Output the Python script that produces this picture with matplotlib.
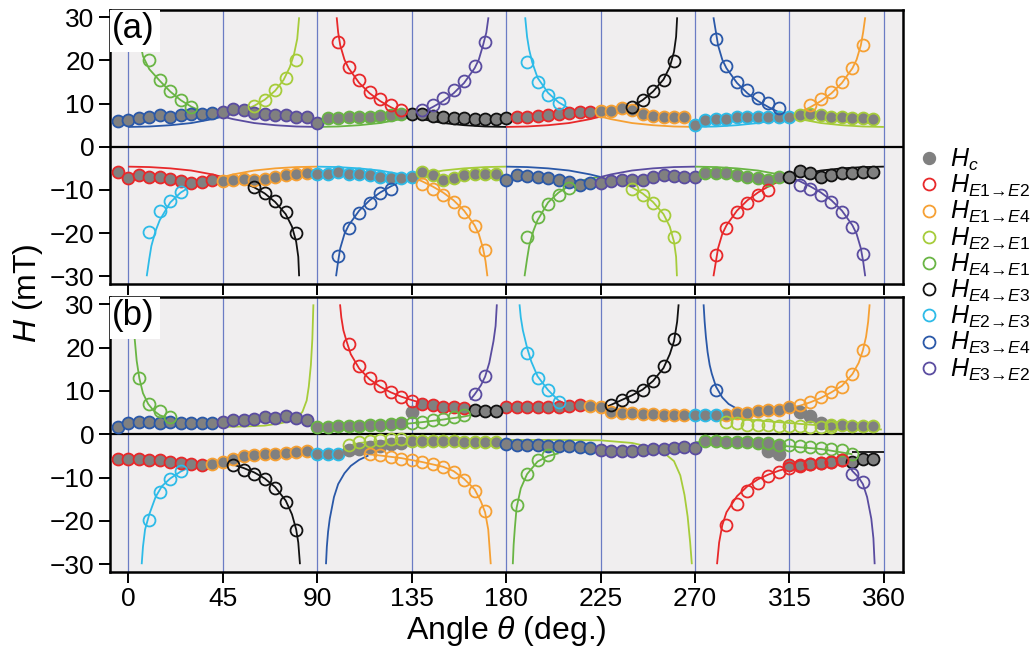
import matplotlib
matplotlib.use("Agg")
import matplotlib.pyplot as plt
from matplotlib.lines import Line2D
from matplotlib.patches import Rectangle

plt.rcParams['font.family'] = ['Liberation Sans', 'DejaVu Sans']
plt.rcParams['mathtext.fontset'] = 'custom'
plt.rcParams['mathtext.it'] = 'Liberation Sans:italic'
plt.rcParams['mathtext.rm'] = 'Liberation Sans'
plt.rcParams['mathtext.fallback'] = 'stix'

C = {'hc': '#808080', 'r': '#e8282a', 'o': '#f6a033', 'lg': '#a6cc3a', 'g': '#69b544',
     'k': '#111111', 'c': '#2dbbe8', 'b': '#2a58a8', 'p': '#5a4ca0'}

# ---------------- panel (a) : Hc (filled) ----------------
a_hc_pos_b_x = [-5, 0, 5, 10, 15, 20, 25, 30, 35, 40]
a_hc_pos_b_y = [6.0, 6.2, 6.7, 6.9, 7.3, 6.9, 7.3, 7.6, 7.6, 7.8]
a_hc_pos_p_x = [45, 50, 55, 60, 65, 70, 75, 80, 85, 90]
a_hc_pos_p_y = [8.1, 8.7, 8.5, 7.9, 7.7, 7.4, 7.3, 7.0, 6.8, 5.6]
a_hc_pos_g_x = [95, 100, 105, 110, 115, 120, 125, 130]
a_hc_pos_g_y = [6.6, 6.6, 6.8, 6.9, 7.0, 7.2, 7.4, 7.7]
a_hc_pos_k_x = [135, 140, 145, 150, 155, 160, 165, 170, 175, 180]
a_hc_pos_k_y = [7.5, 7.6, 7.2, 6.8, 6.6, 6.7, 6.35, 6.35, 6.4, 6.6]
a_hc_pos_r_x = [185, 190, 195, 200, 205, 210, 215, 220]
a_hc_pos_r_y = [7.0, 7.0, 7.1, 7.3, 7.7, 7.9, 8.1, 8.1]
a_hc_pos_o_x = [225, 230, 235, 240, 245, 250, 255, 260, 265]
a_hc_pos_o_y = [8.3, 8.3, 8.9, 8.5, 7.7, 7.1, 7.0, 7.0, 7.0]
a_hc_pos_c_x = [270, 275, 280, 285, 290, 295, 300, 305, 310, 315]
a_hc_pos_c_y = [5.0, 6.2, 6.4, 6.4, 6.8, 6.8, 7.0, 7.0, 7.0, 7.0]
a_hc_pos_lg_x = [320, 325, 330, 335, 340, 345, 350, 355]
a_hc_pos_lg_y = [7.3, 7.7, 7.3, 7.0, 6.8, 6.6, 6.6, 6.4]

a_hc_neg_r_x = [-5, 0, 5, 10, 15, 20, 25, 30, 35, 40]
a_hc_neg_r_y = [-5.9, -7.3, -6.6, -7.0, -7.1, -7.5, -8.0, -8.3, -8.1, -7.7]
a_hc_neg_o_x = [45, 50, 55, 60, 65, 70, 75, 80, 85]
a_hc_neg_o_y = [-8.0, -7.7, -7.5, -7.6, -7.5, -7.0, -6.6, -6.4, -6.1]
a_hc_neg_c_x = [90, 95, 100, 105, 110, 115, 120, 125, 130, 135]
a_hc_neg_c_y = [-6.4, -6.2, -5.8, -6.2, -6.2, -6.6, -7.0, -7.2, -7.3, -6.9]
a_hc_neg_lg_x = [140, 145, 150, 155, 160, 165, 170, 175]
a_hc_neg_lg_y = [-5.9, -6.6, -7.7, -7.3, -6.6, -6.2, -6.2, -6.2]
a_hc_neg_b_x = [180, 185, 190, 195, 200, 205, 210, 215, 220]
a_hc_neg_b_y = [-7.7, -6.6, -6.8, -6.9, -7.3, -7.7, -8.2, -8.8, -8.3]
a_hc_neg_p_x = [225, 230, 235, 240, 245, 250, 255, 260, 265, 270]
a_hc_neg_p_y = [-8.5, -8.0, -7.6, -7.7, -7.6, -7.0, -6.6, -6.8, -7.0, -7.0]
a_hc_neg_g_x = [275, 280, 285, 290, 295, 300, 305, 310]
a_hc_neg_g_y = [-6.1, -6.1, -6.1, -6.6, -6.95, -7.3, -7.6, -6.95]
a_hc_neg_k_x = [315, 320, 325, 330, 335, 340, 345, 350, 355]
a_hc_neg_k_y = [-6.95, -5.5, -6.0, -7.0, -6.55, -6.1, -6.0, -5.8, -5.9]

# ---------------- panel (a) : transition fields (open) ----------------
a_op_g_x = [10, 15, 20, 25, 30];                 a_op_g_y = [20.1, 15.5, 13.0, 10.8, 9.3]
a_op_lg_x = [60, 65, 70, 75, 80];                a_op_lg_y = [9.4, 10.8, 13.1, 15.9, 20.1]
a_op_r_x = [100, 105, 110, 115, 120, 125, 130];  a_op_r_y = [24.3, 18.5, 15.5, 12.8, 11.0, 9.6, 8.6]
a_op_p_x = [140, 145, 150, 155, 160, 165, 170];  a_op_p_y = [8.6, 9.6, 11.2, 13.1, 15.2, 18.7, 24.3]
a_op_c_x = [190, 195, 200, 205];                 a_op_c_y = [19.7, 15.1, 12.1, 10.2]
a_op_k_x = [240, 245, 250, 255, 260];            a_op_k_y = [9.3, 10.8, 13.0, 15.5, 19.9]
a_op_b_x = [280, 285, 290, 295, 300, 305, 310];  a_op_b_y = [24.9, 18.7, 15.1, 13.1, 11.2, 10.1, 8.9]
a_op_o_x = [325, 330, 335, 340, 345, 350];       a_op_o_y = [9.7, 11.0, 12.8, 15.1, 18.2, 23.7]
a_on_c_x = [10, 15, 20, 25];                     a_on_c_y = [-19.7, -14.9, -12.5, -10.4]
a_on_k_x = [60, 65, 70, 75, 80];                 a_on_k_y = [-9.3, -10.8, -12.5, -15.1, -19.9]
a_on_b_x = [100, 105, 110, 115, 120, 125];       a_on_b_y = [-25.3, -18.9, -15.4, -13.0, -10.8, -9.7]
a_on_o_x = [140, 145, 150, 155, 160, 165, 170];  a_on_o_y = [-8.6, -9.7, -11.2, -12.9, -15.1, -18.4, -24.0]
a_on_g_x = [190, 195, 200, 205, 210];            a_on_g_y = [-21.0, -16.2, -13.2, -11.2, -9.6]
a_on_lg_x = [240, 245, 250, 255, 260];           a_on_lg_y = [-9.7, -11.2, -13.1, -15.8, -21.0]
a_on_r_x = [280, 285, 290, 295, 300, 305];       a_on_r_y = [-25.1, -18.9, -15.1, -13.0, -11.2, -9.9]
a_on_p_x = [320, 325, 330, 335, 340, 345, 350];  a_on_p_y = [-8.9, -9.7, -11.2, -12.9, -15.1, -18.7, -24.9]

# ---------------- panel (a) : fitted curves ----------------
a_fit_g_hi_x = [3.5, 5, 7, 10, 15, 20, 25, 30, 35, 40, 45]
a_fit_g_hi_y = [30, 26, 21, 18, 15.3, 12.8, 10.8, 9.3, 8.2, 7.5, 7.0]
a_fit_lg_hi_x = [45, 50, 55, 60, 65, 70, 74, 77, 79, 80.5, 81.4]
a_fit_lg_hi_y = [7.0, 7.6, 8.4, 9.5, 10.9, 13.0, 15.5, 18.5, 21.5, 25, 30]
a_fit_b_lo_x = [0, 10, 20, 30, 40, 45];          a_fit_b_lo_y = [4.6, 4.7, 5.0, 5.5, 6.4, 7.0]
a_fit_p_lo_x = [45, 50, 60, 70, 80, 90];         a_fit_p_lo_y = [7.0, 6.4, 5.5, 5.0, 4.7, 4.6]
a_fit_g_lo_x = [90, 100, 110, 120, 130, 135];    a_fit_g_lo_y = [4.6, 4.7, 5.0, 5.5, 6.4, 7.0]
a_fit_r_hi_x = [99.3, 100, 101, 103, 105, 110, 115, 120, 125, 130, 135]
a_fit_r_hi_y = [30, 26.5, 23.5, 20.2, 18.2, 14.8, 12.4, 10.6, 9.2, 8.0, 7.0]
a_fit_p_hi_x = [135, 140, 145, 150, 155, 160, 165, 167, 169, 170.6, 171.6]
a_fit_p_hi_y = [7.0, 8.0, 9.2, 10.6, 12.4, 14.8, 18.2, 20.2, 23.5, 26.5, 30]
a_fit_k_lo_x = [135, 140, 150, 160, 170, 180];   a_fit_k_lo_y = [7.0, 6.4, 5.5, 5.0, 4.7, 4.6]
a_fit_c_hi_x = [189.1, 190, 191, 192.5, 195, 200, 205, 210, 215, 220, 225]
a_fit_c_hi_y = [30, 25.5, 22.5, 19.5, 16.0, 12.5, 10.3, 8.9, 7.9, 7.3, 6.9]
a_fit_r_lo_x = [180, 190, 200, 210, 220, 225];   a_fit_r_lo_y = [4.6, 4.7, 5.0, 5.5, 6.4, 7.0]
a_fit_k_hi_x = [225, 230, 235, 240, 245, 250, 255, 258, 260, 261, 261.5]
a_fit_k_hi_y = [7.0, 7.7, 8.4, 9.4, 10.8, 12.8, 15.6, 18.5, 22, 25.5, 30]
a_fit_o_lo_x = [225, 230, 240, 250, 260, 270];   a_fit_o_lo_y = [7.0, 6.4, 5.5, 5.0, 4.7, 4.6]
a_fit_b_hi_x = [278.8, 280, 281, 283, 285, 290, 295, 300, 305, 310, 315]
a_fit_b_hi_y = [30, 26.5, 23.5, 20.2, 18.2, 14.8, 12.4, 10.6, 9.2, 8.0, 7.0]
a_fit_c_lo_x = [270, 280, 290, 300, 310, 315];   a_fit_c_lo_y = [4.6, 4.7, 5.0, 5.5, 6.4, 7.0]
a_fit_o_hi_x = [315, 320, 325, 330, 335, 340, 345, 347, 349, 350.1, 351.1]
a_fit_o_hi_y = [7.0, 8.0, 9.2, 10.6, 12.4, 14.8, 18.2, 20.2, 23.5, 26.5, 30]
a_fit_lg_lo_x = [315, 320, 330, 340, 350, 360];  a_fit_lg_lo_y = [7.0, 6.4, 5.5, 5.0, 4.7, 4.6]

a_fitn_r_lo_x = [0, 10, 20, 30, 40, 45];         a_fitn_r_lo_y = [-4.6, -4.7, -5.0, -5.5, -6.4, -7.0]
a_fitn_c_hi_x = [8.8, 10, 11, 13, 15, 20, 25, 30, 35, 40, 45]
a_fitn_c_hi_y = [-30, -26, -23, -19.5, -17, -12.9, -10.6, -9.1, -8.0, -7.3, -7.0]
a_fitn_o_lo_x = [45, 50, 60, 70, 80, 90];        a_fitn_o_lo_y = [-7.0, -6.4, -5.5, -5.0, -4.7, -4.6]
a_fitn_k_hi_x = [45, 50, 55, 60, 65, 70, 75, 78, 80, 81, 81.4]
a_fitn_k_hi_y = [-7.0, -7.7, -8.4, -9.4, -10.8, -12.8, -15.6, -18.5, -22, -25.5, -30]
a_fitn_c_lo_x = [90, 100, 110, 120, 130, 135];   a_fitn_c_lo_y = [-4.6, -4.7, -5.0, -5.5, -6.4, -7.0]
a_fitn_b_hi_x = [99, 100, 101, 103, 105, 110, 115, 120, 125, 130, 135]
a_fitn_b_hi_y = [-30, -26.5, -23.5, -20.2, -18.2, -14.8, -12.4, -10.6, -9.2, -8.0, -7.0]
a_fitn_o_hi_x = [135, 140, 145, 150, 155, 160, 165, 167, 169, 170.2, 171.1]
a_fitn_o_hi_y = [-7.0, -8.0, -9.2, -10.6, -12.4, -14.8, -18.2, -20.2, -23.5, -26.5, -30]
a_fitn_lg_lo_x = [135, 140, 150, 160, 170, 180]; a_fitn_lg_lo_y = [-7.0, -6.4, -5.5, -5.0, -4.7, -4.6]
a_fitn_g_hi_x = [188.8, 190, 191, 193, 195, 200, 205, 210, 215, 220, 225]
a_fitn_g_hi_y = [-30, -26, -23, -19.5, -17, -12.9, -10.6, -9.1, -8.0, -7.3, -7.0]
a_fitn_b_lo_x = [180, 190, 200, 210, 220, 225];  a_fitn_b_lo_y = [-4.6, -4.7, -5.0, -5.5, -6.4, -7.0]
a_fitn_lg_hi_x = [225, 230, 235, 240, 245, 250, 255, 258, 260, 261, 261.4]
a_fitn_lg_hi_y = [-7.0, -7.7, -8.4, -9.4, -10.8, -12.8, -15.6, -18.5, -22, -25.5, -30]
a_fitn_p_lo_x = [225, 230, 240, 250, 260, 270];  a_fitn_p_lo_y = [-7.0, -6.4, -5.5, -5.0, -4.7, -4.6]
a_fitn_r_hi_x = [278.8, 280, 281, 283, 285, 290, 295, 300, 305, 310, 315]
a_fitn_r_hi_y = [-30, -26.5, -23.5, -20.2, -18.2, -14.8, -12.4, -10.6, -9.2, -8.0, -7.0]
a_fitn_g_lo_x = [270, 280, 290, 300, 310, 315];  a_fitn_g_lo_y = [-4.6, -4.7, -5.0, -5.5, -6.4, -7.0]
a_fitn_p_hi_x = [315, 320, 325, 330, 335, 340, 345, 347, 349, 350.1, 351.1]
a_fitn_p_hi_y = [-7.0, -8.0, -9.2, -10.6, -12.4, -14.8, -18.2, -20.2, -23.5, -26.5, -30]
a_fitn_k_lo_x = [315, 320, 330, 340, 350, 360];  a_fitn_k_lo_y = [-7.0, -6.4, -5.5, -5.0, -4.7, -4.6]

# ---------------- panel (b) : Hc (filled) ----------------
b_hc_pos_b_x = [-5, 0, 5, 10, 15, 20, 25, 30, 35, 40]
b_hc_pos_b_y = [1.7, 2.5, 2.85, 2.85, 2.6, 2.85, 2.7, 2.7, 2.7, 2.7]
b_hc_pos_p_x = [45, 50, 55, 60, 65, 70, 75, 80, 85]
b_hc_pos_p_y = [2.85, 3.2, 3.4, 3.6, 4.0, 3.85, 4.15, 3.8, 3.4]
b_hc_pos_g_x = [90, 95, 100, 105, 110, 115, 120, 125, 130]
b_hc_pos_g_y = [1.7, 1.7, 1.85, 1.85, 1.85, 2.1, 2.1, 2.3, 2.5]
b_hc_pos_n_x = [135, 320, 325, 330]
b_hc_pos_n_y = [5.15, 5.1, 4.2, 2.7]
b_hc_pos_r_x = [140, 145, 150, 155, 160, 180, 185, 190, 195, 200, 205, 210, 215]
b_hc_pos_r_y = [7.1, 6.7, 6.3, 6.3, 6.1, 6.2, 6.3, 6.3, 6.3, 6.2, 6.3, 6.5, 6.7]
b_hc_pos_k_x = [165, 170, 175]
b_hc_pos_k_y = [5.5, 5.4, 5.4]
b_hc_pos_o_x = [220, 225, 230, 235, 240, 245, 250, 255, 260, 265, 285, 290, 295, 300, 305, 310, 315]
b_hc_pos_o_y = [6.5, 6.3, 5.2, 4.9, 4.8, 4.6, 4.6, 4.55, 4.55, 4.4, 4.4, 4.8, 5.0, 5.4, 5.6, 5.7, 6.2]
b_hc_pos_c_x = [270, 275, 280]
b_hc_pos_c_y = [4.5, 4.5, 4.5]
b_hc_pos_lg_x = [335, 340, 345, 350, 355]
b_hc_pos_lg_y = [2.1, 2.1, 1.85, 1.85, 1.85]

b_hc_neg_r_x = [-5, 0, 5, 10, 15, 20, 25, 30, 35, 315, 320, 325, 330, 335, 340]
b_hc_neg_r_y = [-5.8, -5.6, -5.8, -6.0, -6.0, -6.4, -6.6, -6.8, -7.2, -7.1, -7.0, -6.8, -6.7, -6.4, -6.0]
b_hc_neg_o_x = [40, 45, 50, 55, 60, 65, 70, 75, 80, 85]
b_hc_neg_o_y = [-6.8, -6.4, -5.6, -5.1, -4.85, -4.6, -4.5, -4.3, -4.1, -3.85]
b_hc_neg_c_x = [90, 95, 100]
b_hc_neg_c_y = [-4.5, -4.5, -4.5]
b_hc_neg_n_x = [105, 110, 115, 120, 125, 130, 305, 310]
b_hc_neg_n_y = [-3.6, -3.3, -3.0, -2.6, -2.2, -2.0, -3.8, -4.6]
b_hc_neg_lg_x = [135, 140, 145, 150, 155, 160, 165, 170, 175]
b_hc_neg_lg_y = [-1.6, -1.6, -1.6, -1.6, -1.6, -1.7, -1.7, -1.8, -1.8]
b_hc_neg_b_x = [180, 185, 190, 195, 200, 205, 210, 215, 220]
b_hc_neg_b_y = [-2.3, -2.4, -2.5, -2.5, -2.6, -2.7, -2.8, -3.0, -3.1]
b_hc_neg_p_x = [225, 230, 235, 240, 245, 250, 255, 260, 265, 270]
b_hc_neg_p_y = [-3.7, -3.8, -3.8, -3.8, -3.7, -3.5, -3.3, -3.1, -2.9, -3.1]
b_hc_neg_g_x = [275, 280, 285, 290, 295, 300, 305, 310]
b_hc_neg_g_y = [-1.6, -1.6, -1.8, -1.8, -1.8, -1.9, -2.1, -2.5]
b_hc_neg_k_x = [345, 350, 355]
b_hc_neg_k_y = [-6.4, -5.6, -5.6]

# ---------------- panel (b) : transition fields (open) ----------------
b_op_g_x = [5, 10, 15, 20, 135, 140, 145, 150, 155, 160]
b_op_g_y = [12.9, 6.9, 5.4, 4.0, 2.7, 2.9, 3.2, 3.6, 4.1, 4.4]
b_op_r_x = [105, 110, 115, 120, 125, 130, 135]; b_op_r_y = [20.8, 15.7, 13.1, 11.1, 9.8, 8.6, 7.7]
b_op_p_x = [165, 170];                          b_op_p_y = [9.4, 13.4]
b_op_c_x = [190, 195, 200, 205];                b_op_c_y = [18.8, 12.9, 10.2, 7.5]
b_op_k_x = [230, 235, 240, 245, 250, 255, 260]; b_op_k_y = [6.7, 7.85, 8.8, 10.2, 12.3, 15.7, 21.9]
b_op_b_x = [280];                               b_op_b_y = [10.3]
b_op_o_x = [320, 325, 330, 335, 340, 345, 350]; b_op_o_y = [6.7, 7.5, 8.6, 9.8, 10.9, 13.9, 19.4]
b_op_lg_x = [285, 290, 295, 300, 305, 310, 315, 320, 325, 330, 335]
b_op_lg_y = [2.85, 2.5, 2.1, 2.1, 2.1, 1.85, 1.9, 1.85, 1.7, 1.7, 1.6]
b_on_c_x = [10, 15, 20, 25];                    b_on_c_y = [-19.9, -13.3, -10.4, -8.5]
b_on_k_x = [50, 55, 60, 65, 70, 75, 80];        b_on_k_y = [-7.2, -8.2, -9.1, -10.4, -12.5, -15.6, -22.0]
b_on_lg_x = [105, 110, 115, 120, 125, 130];     b_on_lg_y = [-2.5, -1.8, -1.5, -1.3, -1.2, -1.1]
b_on_o_x = [115, 120, 125, 130, 135, 140, 145, 150, 155, 160, 165, 170]
b_on_o_y = [-4.6, -4.85, -5.2, -5.6, -6.0, -6.4, -6.9, -7.5, -8.7, -10.5, -13.0, -17.7]
b_on_g_x = [185, 190, 195, 200, 315, 320, 325, 330, 335, 340, 345]
b_on_g_y = [-16.4, -9.1, -6.0, -4.85, -2.5, -2.7, -2.9, -3.2, -3.4, -3.7, -4.5]
b_on_r_x = [285, 290, 295, 300, 305, 310, 315, 320, 325, 330, 335, 340]
b_on_r_y = [-21.0, -16.2, -13.1, -11.2, -9.7, -8.7, -7.9, -7.4, -6.9, -6.6, -6.4, -6.0]
b_on_p_x = [345, 350];                          b_on_p_y = [-9.1, -11.0]

# ---------------- panel (b) : fitted curves ----------------
b_fit_g_hi_x = [2.0, 2.5, 3.2, 4, 5.3, 7, 9.5, 12, 15, 20, 25]
b_fit_g_hi_y = [30, 25, 21.3, 17, 12.9, 9.5, 7.0, 5.5, 4.4, 3.6, 3.1]
b_fit_lg_hi_x = [45, 55, 65, 72, 77, 80, 83, 85, 86, 87, 87.7, 88.2]
b_fit_lg_hi_y = [1.7, 1.8, 2.0, 2.5, 3.0, 3.6, 5.2, 7.8, 11, 16, 22, 30]
b_fit_g_lo_x = [90, 110, 130, 140, 150, 160, 166]
b_fit_g_lo_y = [1.7, 1.9, 2.3, 2.8, 3.4, 4.1, 4.7]
b_fit_r_hi_x = [100.9, 101.5, 102.5, 104, 106, 110, 115, 120, 125, 130, 135, 140, 150, 160, 170,
                180, 190, 200, 210, 215]
b_fit_r_hi_y = [30, 27, 24, 21.5, 18.5, 15.2, 12.7, 11.0, 9.7, 8.7, 7.9, 7.2, 6.5, 6.1, 5.9,
                5.9, 6.0, 6.2, 6.4, 6.5]
b_fit_p_hi_x = [163, 165, 168, 170, 172, 174, 175, 175.6]
b_fit_p_hi_y = [8.0, 9.2, 11.3, 13.3, 16.5, 21.5, 25, 30]
b_fit_c_hi_x = [186.4, 187, 188, 190, 192, 195, 200, 205, 210]
b_fit_c_hi_y = [30, 27, 24, 20, 16.8, 13.4, 10.2, 7.8, 6.5]
b_fit_o_x = [215, 225, 240, 255, 270, 285, 300, 310, 315, 320, 325, 330, 335, 340, 345, 348,
             350, 351.5, 352.5, 353.2]
b_fit_o_y = [6.6, 5.6, 4.8, 4.5, 4.3, 4.4, 5.0, 5.6, 6.1, 6.6, 7.4, 8.4, 9.7, 11.2, 13.9, 16.5,
             19.4, 22.5, 26, 30]
b_fit_k_hi_x = [226, 230, 235, 240, 245, 250, 255, 258, 260, 261.5, 262.2]
b_fit_k_hi_y = [6.0, 6.8, 7.9, 9.0, 10.3, 12.3, 15.3, 18.5, 21.5, 26, 30]
b_fit_b_hi_x = [274.1, 274.6, 275.2, 276, 277, 278, 280, 283, 286, 290]
b_fit_b_hi_y = [30, 26, 22.5, 19, 16, 14, 11, 8.5, 7.0, 5.9]
b_fit_lg_lo_x = [282.8, 295, 307.4, 320, 331.2, 345, 359]
b_fit_lg_lo_y = [4.0, 3.4, 2.9, 2.4, 2.0, 1.5, 1.1]

b_fitn_c_x = [6.4, 7, 8, 10, 13, 16, 20, 25, 28]
b_fitn_c_y = [-30, -26, -22, -18.5, -14.5, -12, -10.2, -8.6, -7.9]
b_fitn_o_x = [40, 50, 60, 75, 90, 100, 110, 120, 130, 140, 150, 155, 160, 165, 168, 170, 171.5, 172.7]
b_fitn_o_y = [-6.9, -5.6, -4.9, -4.3, -4.1, -4.1, -4.4, -4.9, -5.5, -6.4, -7.5, -8.5, -10.3, -12.7,
              -15.5, -18, -22, -30]
b_fitn_k_x = [45, 50, 55, 60, 65, 70, 75, 78, 80, 81, 81.8]
b_fitn_k_y = [-6.4, -7.0, -7.8, -8.8, -10.2, -12.2, -15.3, -18.5, -22, -25, -30]
b_fitn_b_x = [94.2, 94.6, 95.2, 96, 97, 98, 100, 103, 106, 110, 114.4]
b_fitn_b_y = [-30, -26, -22.5, -19.5, -17, -14.5, -11.5, -9, -7.3, -5.9, -4.9]
b_fitn_lg_x = [104, 110, 120, 140, 160, 180, 200, 225, 240, 250, 255, 260, 263, 265, 266.5, 267.7, 268.5]
b_fitn_lg_y = [-2.9, -2.0, -1.6, -1.4, -1.3, -1.3, -1.3, -1.4, -2.0, -3.1, -4.2, -6.2, -9.5, -14,
               -19, -25, -30]
b_fitn_g_x = [183.2, 183.6, 184.2, 185, 187, 190, 195, 200, 205]
b_fitn_g_y = [-30, -25.5, -21.5, -17, -12.5, -9.2, -6.3, -5.0, -4.4]
b_fitn_g2_x = [270, 290, 310, 330, 345]
b_fitn_g2_y = [-1.8, -2.1, -2.6, -3.4, -4.6]
b_fitn_r_x = [280.5, 281.5, 283, 285, 290, 295, 300, 305, 310, 315, 320, 330, 340]
b_fitn_r_y = [-30, -25, -21, -18, -14.3, -12, -10.4, -9.3, -8.4, -7.7, -7.1, -6.3, -5.8]
b_fitn_k2_x = [345, 360]
b_fitn_k2_y = [-4.1, -4.1]
b_fitn_p_x = [343, 345, 348, 350, 352, 354, 355, 355.6]
b_fitn_p_y = [-7, -8.5, -10, -11.5, -14.5, -19.5, -24, -30]

xticks = [0, 45, 90, 135, 180, 225, 270, 315, 360]
yticks = [-30, -20, -10, 0, 10, 20, 30]

ARROW = r'\!\rightarrow\!'
legend_labels = [r'$H_c$',
                 r'$H_{\mathit{E1}' + ARROW + r'\mathit{E2}}$',
                 r'$H_{\mathit{E1}' + ARROW + r'\mathit{E4}}$',
                 r'$H_{\mathit{E2}' + ARROW + r'\mathit{E1}}$',
                 r'$H_{\mathit{E4}' + ARROW + r'\mathit{E1}}$',
                 r'$H_{\mathit{E4}' + ARROW + r'\mathit{E3}}$',
                 r'$H_{\mathit{E2}' + ARROW + r'\mathit{E3}}$',
                 r'$H_{\mathit{E3}' + ARROW + r'\mathit{E4}}$',
                 r'$H_{\mathit{E3}' + ARROW + r'\mathit{E2}}$']
legend_keys = ['hc', 'r', 'o', 'lg', 'g', 'k', 'c', 'b', 'p']

MS = 8.6
MEW = 1.3


def fit(ax, x, y, key):
    ax.plot(x, y, '-', color=C[key], lw=1.3, zorder=2, solid_capstyle='butt')


def hc(ax, x, y, key):
    ax.plot(x, y, 'o', ms=MS, mfc=C['hc'], mec=C[key], mew=MEW, ls='none', zorder=3)


def op(ax, x, y, key):
    ax.plot(x, y, 'o', ms=MS, mfc='none', mec=C[key], mew=MEW, ls='none', zorder=4)


fig = plt.figure(figsize=(10.36, 6.58), dpi=100)
L, R = 110 / 1036, 903 / 1036
ax_a = fig.add_axes([L, 1 - 284 / 658, R - L, (284 - 10) / 658])
ax_b = fig.add_axes([L, 1 - 572 / 658, R - L, (572 - 297) / 658])

for ax, lab in ((ax_a, '(a)'), (ax_b, '(b)')):
    ax.set_facecolor('#f0eeef')
    ax.set_xlim(-8.7, 369.1)
    ax.set_ylim(-31.8, 31.7)
    for v in xticks:
        ax.axvline(v, color='#6b7cc4', lw=0.9, zorder=1)
    ax.axhline(0, color='black', lw=1.6, zorder=1.5)
    ax.set_xticks(xticks)
    ax.set_yticks(yticks)
    ax.tick_params(direction='out', length=8, width=1.4, labelsize=19, pad=3)
    for s in ax.spines.values():
        s.set_linewidth(1.8)
    ax.add_patch(Rectangle((-8.7, 21.9), 23.8, 9.9, facecolor='white', edgecolor='none', zorder=6))
    ax.text(-7.9, 31.3, lab, ha='left', va='top', fontsize=25, zorder=7)
ax_a.tick_params(labelbottom=False)

# panel (a)
fit(ax_a, a_fit_g_hi_x, a_fit_g_hi_y, 'g'); fit(ax_a, a_fit_lg_hi_x, a_fit_lg_hi_y, 'lg')
fit(ax_a, a_fit_b_lo_x, a_fit_b_lo_y, 'b'); fit(ax_a, a_fit_p_lo_x, a_fit_p_lo_y, 'p')
fit(ax_a, a_fit_g_lo_x, a_fit_g_lo_y, 'g'); fit(ax_a, a_fit_r_hi_x, a_fit_r_hi_y, 'r')
fit(ax_a, a_fit_p_hi_x, a_fit_p_hi_y, 'p'); fit(ax_a, a_fit_k_lo_x, a_fit_k_lo_y, 'k')
fit(ax_a, a_fit_c_hi_x, a_fit_c_hi_y, 'c'); fit(ax_a, a_fit_r_lo_x, a_fit_r_lo_y, 'r')
fit(ax_a, a_fit_k_hi_x, a_fit_k_hi_y, 'k'); fit(ax_a, a_fit_o_lo_x, a_fit_o_lo_y, 'o')
fit(ax_a, a_fit_b_hi_x, a_fit_b_hi_y, 'b'); fit(ax_a, a_fit_c_lo_x, a_fit_c_lo_y, 'c')
fit(ax_a, a_fit_o_hi_x, a_fit_o_hi_y, 'o'); fit(ax_a, a_fit_lg_lo_x, a_fit_lg_lo_y, 'lg')
fit(ax_a, a_fitn_r_lo_x, a_fitn_r_lo_y, 'r'); fit(ax_a, a_fitn_c_hi_x, a_fitn_c_hi_y, 'c')
fit(ax_a, a_fitn_o_lo_x, a_fitn_o_lo_y, 'o'); fit(ax_a, a_fitn_k_hi_x, a_fitn_k_hi_y, 'k')
fit(ax_a, a_fitn_c_lo_x, a_fitn_c_lo_y, 'c'); fit(ax_a, a_fitn_b_hi_x, a_fitn_b_hi_y, 'b')
fit(ax_a, a_fitn_o_hi_x, a_fitn_o_hi_y, 'o'); fit(ax_a, a_fitn_lg_lo_x, a_fitn_lg_lo_y, 'lg')
fit(ax_a, a_fitn_g_hi_x, a_fitn_g_hi_y, 'g'); fit(ax_a, a_fitn_b_lo_x, a_fitn_b_lo_y, 'b')
fit(ax_a, a_fitn_lg_hi_x, a_fitn_lg_hi_y, 'lg'); fit(ax_a, a_fitn_p_lo_x, a_fitn_p_lo_y, 'p')
fit(ax_a, a_fitn_r_hi_x, a_fitn_r_hi_y, 'r'); fit(ax_a, a_fitn_g_lo_x, a_fitn_g_lo_y, 'g')
fit(ax_a, a_fitn_p_hi_x, a_fitn_p_hi_y, 'p'); fit(ax_a, a_fitn_k_lo_x, a_fitn_k_lo_y, 'k')

hc(ax_a, a_hc_pos_b_x, a_hc_pos_b_y, 'b'); hc(ax_a, a_hc_pos_p_x, a_hc_pos_p_y, 'p')
hc(ax_a, a_hc_pos_g_x, a_hc_pos_g_y, 'g'); hc(ax_a, a_hc_pos_k_x, a_hc_pos_k_y, 'k')
hc(ax_a, a_hc_pos_r_x, a_hc_pos_r_y, 'r'); hc(ax_a, a_hc_pos_o_x, a_hc_pos_o_y, 'o')
hc(ax_a, a_hc_pos_c_x, a_hc_pos_c_y, 'c'); hc(ax_a, a_hc_pos_lg_x, a_hc_pos_lg_y, 'lg')
hc(ax_a, a_hc_neg_r_x, a_hc_neg_r_y, 'r'); hc(ax_a, a_hc_neg_o_x, a_hc_neg_o_y, 'o')
hc(ax_a, a_hc_neg_c_x, a_hc_neg_c_y, 'c'); hc(ax_a, a_hc_neg_lg_x, a_hc_neg_lg_y, 'lg')
hc(ax_a, a_hc_neg_b_x, a_hc_neg_b_y, 'b'); hc(ax_a, a_hc_neg_p_x, a_hc_neg_p_y, 'p')
hc(ax_a, a_hc_neg_g_x, a_hc_neg_g_y, 'g'); hc(ax_a, a_hc_neg_k_x, a_hc_neg_k_y, 'k')

op(ax_a, a_op_g_x, a_op_g_y, 'g'); op(ax_a, a_op_lg_x, a_op_lg_y, 'lg')
op(ax_a, a_op_r_x, a_op_r_y, 'r'); op(ax_a, a_op_p_x, a_op_p_y, 'p')
op(ax_a, a_op_c_x, a_op_c_y, 'c'); op(ax_a, a_op_k_x, a_op_k_y, 'k')
op(ax_a, a_op_b_x, a_op_b_y, 'b'); op(ax_a, a_op_o_x, a_op_o_y, 'o')
op(ax_a, a_on_c_x, a_on_c_y, 'c'); op(ax_a, a_on_k_x, a_on_k_y, 'k')
op(ax_a, a_on_b_x, a_on_b_y, 'b'); op(ax_a, a_on_o_x, a_on_o_y, 'o')
op(ax_a, a_on_g_x, a_on_g_y, 'g'); op(ax_a, a_on_lg_x, a_on_lg_y, 'lg')
op(ax_a, a_on_r_x, a_on_r_y, 'r'); op(ax_a, a_on_p_x, a_on_p_y, 'p')

# panel (b)
fit(ax_b, b_fit_g_hi_x, b_fit_g_hi_y, 'g'); fit(ax_b, b_fit_lg_hi_x, b_fit_lg_hi_y, 'lg')
fit(ax_b, b_fit_g_lo_x, b_fit_g_lo_y, 'g'); fit(ax_b, b_fit_r_hi_x, b_fit_r_hi_y, 'r')
fit(ax_b, b_fit_p_hi_x, b_fit_p_hi_y, 'p'); fit(ax_b, b_fit_c_hi_x, b_fit_c_hi_y, 'c')
fit(ax_b, b_fit_o_x, b_fit_o_y, 'o'); fit(ax_b, b_fit_k_hi_x, b_fit_k_hi_y, 'k')
fit(ax_b, b_fit_b_hi_x, b_fit_b_hi_y, 'b'); fit(ax_b, b_fit_lg_lo_x, b_fit_lg_lo_y, 'lg')
fit(ax_b, b_fitn_c_x, b_fitn_c_y, 'c'); fit(ax_b, b_fitn_o_x, b_fitn_o_y, 'o')
fit(ax_b, b_fitn_k_x, b_fitn_k_y, 'k'); fit(ax_b, b_fitn_b_x, b_fitn_b_y, 'b')
fit(ax_b, b_fitn_lg_x, b_fitn_lg_y, 'lg'); fit(ax_b, b_fitn_g_x, b_fitn_g_y, 'g')
fit(ax_b, b_fitn_g2_x, b_fitn_g2_y, 'g'); fit(ax_b, b_fitn_r_x, b_fitn_r_y, 'r')
fit(ax_b, b_fitn_k2_x, b_fitn_k2_y, 'k'); fit(ax_b, b_fitn_p_x, b_fitn_p_y, 'p')

hc(ax_b, b_hc_pos_b_x, b_hc_pos_b_y, 'b'); hc(ax_b, b_hc_pos_p_x, b_hc_pos_p_y, 'p')
hc(ax_b, b_hc_pos_g_x, b_hc_pos_g_y, 'g'); hc(ax_b, b_hc_pos_n_x, b_hc_pos_n_y, 'hc')
hc(ax_b, b_hc_pos_r_x, b_hc_pos_r_y, 'r'); hc(ax_b, b_hc_pos_k_x, b_hc_pos_k_y, 'k')
hc(ax_b, b_hc_pos_o_x, b_hc_pos_o_y, 'o'); hc(ax_b, b_hc_pos_c_x, b_hc_pos_c_y, 'c')
hc(ax_b, b_hc_pos_lg_x, b_hc_pos_lg_y, 'lg')
hc(ax_b, b_hc_neg_r_x, b_hc_neg_r_y, 'r'); hc(ax_b, b_hc_neg_o_x, b_hc_neg_o_y, 'o')
hc(ax_b, b_hc_neg_c_x, b_hc_neg_c_y, 'c'); hc(ax_b, b_hc_neg_n_x, b_hc_neg_n_y, 'hc')
hc(ax_b, b_hc_neg_lg_x, b_hc_neg_lg_y, 'lg'); hc(ax_b, b_hc_neg_b_x, b_hc_neg_b_y, 'b')
hc(ax_b, b_hc_neg_p_x, b_hc_neg_p_y, 'p'); hc(ax_b, b_hc_neg_g_x, b_hc_neg_g_y, 'g')
hc(ax_b, b_hc_neg_k_x, b_hc_neg_k_y, 'k')

op(ax_b, b_op_g_x, b_op_g_y, 'g'); op(ax_b, b_op_r_x, b_op_r_y, 'r')
op(ax_b, b_op_p_x, b_op_p_y, 'p'); op(ax_b, b_op_c_x, b_op_c_y, 'c')
op(ax_b, b_op_k_x, b_op_k_y, 'k'); op(ax_b, b_op_b_x, b_op_b_y, 'b')
op(ax_b, b_op_o_x, b_op_o_y, 'o'); op(ax_b, b_op_lg_x, b_op_lg_y, 'lg')
op(ax_b, b_on_c_x, b_on_c_y, 'c'); op(ax_b, b_on_k_x, b_on_k_y, 'k')
op(ax_b, b_on_lg_x, b_on_lg_y, 'lg'); op(ax_b, b_on_o_x, b_on_o_y, 'o')
op(ax_b, b_on_g_x, b_on_g_y, 'g'); op(ax_b, b_on_r_x, b_on_r_y, 'r')
op(ax_b, b_on_p_x, b_on_p_y, 'p')

ax_b.set_xlabel(r'Angle $\theta$ (deg.)', fontsize=23, labelpad=2)
fig.text(0.027, 0.555, r'$H$ (mT)', rotation=90, fontsize=23, ha='center', va='center')

handles = []
for k in legend_keys:
    if k == 'hc':
        handles.append(Line2D([], [], ls='none', marker='o', ms=MS, mfc=C['hc'], mec=C['hc']))
    else:
        handles.append(Line2D([], [], ls='none', marker='o', ms=MS, mfc='none', mec=C[k], mew=MEW))
fig.legend(handles, legend_labels, loc='upper left', bbox_to_anchor=(0.874, 0.792),
           frameon=False, fontsize=18, handletextpad=0.3, labelspacing=0.0,
           handlelength=1.1, borderaxespad=0)

fig.savefig('out.png', dpi=100)
